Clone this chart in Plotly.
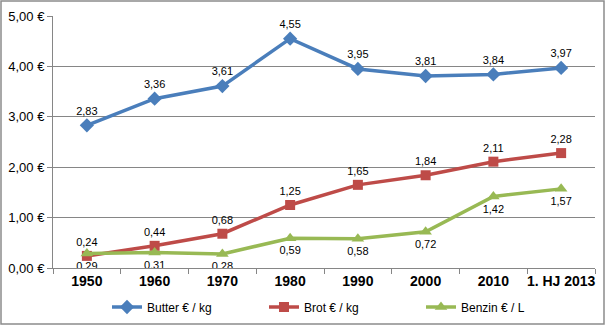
import plotly.graph_objects as go

categories = ["1950", "1960", "1970", "1980", "1990", "2000", "2010", "1. HJ 2013"]
butter = [2.83, 3.36, 3.61, 4.55, 3.95, 3.81, 3.84, 3.97]
brot = [0.24, 0.44, 0.68, 1.25, 1.65, 1.84, 2.11, 2.28]
benzin = [0.29, 0.31, 0.28, 0.59, 0.58, 0.72, 1.42, 1.57]
ytick_vals = [0, 1, 2, 3, 4, 5]
ytick_text = ["0,00 €", "1,00 €", "2,00 €", "3,00 €", "4,00 €", "5,00 €"]

def fmt(v):
    return f"{v:.2f}".replace(".", ",")

label_font = dict(family="Liberation Sans Narrow, Liberation Sans, Arial", size=11, color="#000000")

fig = go.Figure()
fig.add_trace(go.Scatter(
    x=categories, y=butter, name="Butter € / kg", mode="lines+markers+text",
    line=dict(color="#4A7EBB", width=3.5),
    marker=dict(symbol="diamond", size=11, color="#4A7EBB"),
    text=[fmt(v) for v in butter], textposition="top center", textfont=label_font,
))
fig.add_trace(go.Scatter(
    x=categories, y=brot, name="Brot € / kg", mode="lines+markers+text",
    line=dict(color="#BE4B48", width=3.5),
    marker=dict(symbol="square", size=10, color="#BE4B48"),
    text=[fmt(v) for v in brot], textposition="top center", textfont=label_font,
))
fig.add_trace(go.Scatter(
    x=categories, y=benzin, name="Benzin € / L", mode="lines+markers+text",
    line=dict(color="#98B954", width=3.5),
    marker=dict(symbol="triangle-up", size=11, color="#98B954"),
    text=[fmt(v) for v in benzin], textposition="bottom center", textfont=label_font,
))

W, H = 606, 326
l, r, t, b = 53, 11, 16, 58
pw, ph = W - l - r, H - t - b

def px_x(p):
    return (p - l) / pw

def px_y(p):
    return (H - b - p) / ph

fig.add_shape(type="rect", xref="paper", yref="paper",
              x0=px_x(1), x1=px_x(W - 2), y0=px_y(H - 2), y1=px_y(1),
              line=dict(color="#8C8C8C", width=1.5), layer="below")

fig.update_layout(
    width=W, height=H,
    margin=dict(l=l, r=r, t=t, b=b, autoexpand=False),
    paper_bgcolor="white", plot_bgcolor="white",
    font=dict(family="Liberation Sans, Arial", color="#000000"),
    showlegend=True,
    legend=dict(orientation="h", x=px_x(107), xanchor="left", y=px_y(307), yanchor="middle",
                font=dict(size=12, family="Liberation Sans, Arial"), itemwidth=30,
                entrywidth=112, entrywidthmode="pixels",
                tracegroupgap=0, bgcolor="rgba(0,0,0,0)"),
)
fig.update_xaxes(
    type="category", range=[-0.5, len(categories) - 0.5],
    showline=True, linecolor="#868686", linewidth=1,
    ticks="outside", tickson="boundaries", ticklen=5, tickcolor="#868686",
    showgrid=False, tickangle=0, automargin=False,
    tickfont=dict(size=14, family="Liberation Sans, Arial", color="#000000", weight="bold"),
)
fig.update_yaxes(
    range=[0, 5], tickvals=ytick_vals, ticktext=ytick_text,
    showline=True, linecolor="#868686", linewidth=1,
    ticks="outside", ticklen=5, tickcolor="#868686", automargin=False,
    showgrid=True, gridcolor="#868686", gridwidth=1, zeroline=False,
    tickfont=dict(size=13, family="Liberation Sans, Arial", color="#000000"),
)

fig.write_html("out.html")
